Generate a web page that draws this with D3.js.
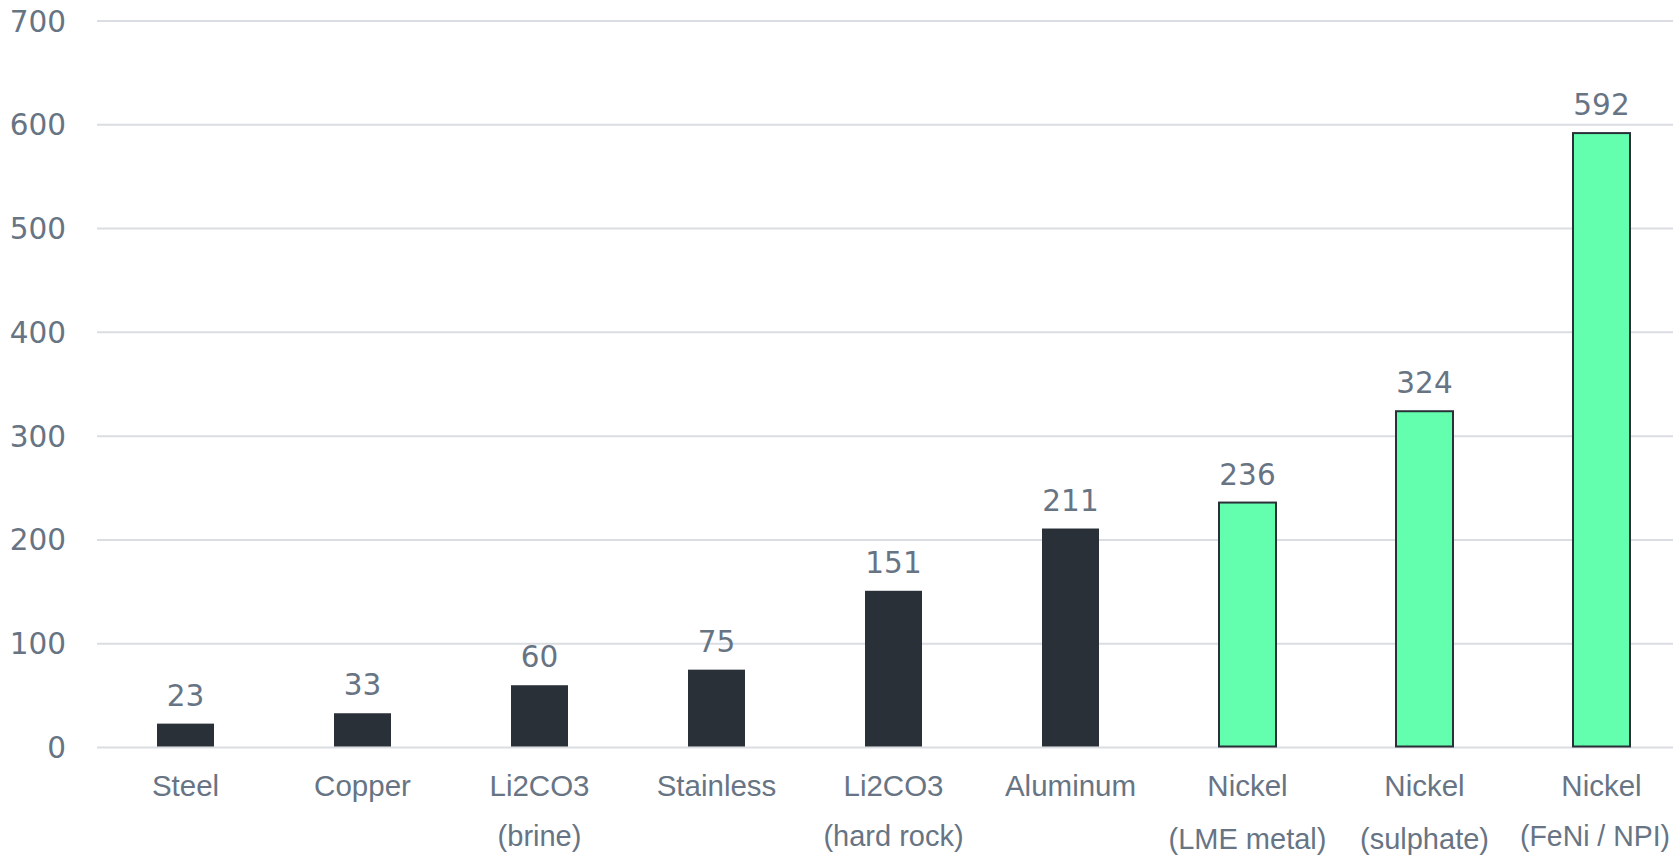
<!DOCTYPE html>
<html>
<head>
<meta charset="utf-8">
<script src="https://cdn.jsdelivr.net/npm/d3@7/dist/d3.min.js"></script>
<style>
  html, body { margin: 0; padding: 0; background: #ffffff; }
  svg { display: block; }
  text { fill: #677484; }
  .num { font-family: "DejaVu Sans", Verdana, sans-serif; }
  .cat { font-family: "Liberation Sans", Arial, sans-serif; }
</style>
</head>
<body>
<svg id="chart" width="1673" height="856"></svg>
<script>
// Category labels (first line / second line)
const categories = ["Steel", "Copper", "Li2CO3", "Stainless", "Li2CO3", "Aluminum", "Nickel", "Nickel", "Nickel"];
const subLabels  = ["", "", "(brine)", "", "(hard rock)", "", "(LME metal)", "(sulphate)", "(FeNi / NPI)"];
// Series values
const values     = [23, 33, 60, 75, 151, 211, 236, 324, 592];
// Which bars are highlighted (nickel products)
const highlight  = [false, false, false, false, false, false, true, true, true];
// Y axis ticks
const yTicks     = [0, 100, 200, 300, 400, 500, 600, 700];

const W = 1673;
const svg = d3.select("#chart");

const plotLeft = 97, plotRight = 1690, gridRight = W;
const yTop = 21, yBottom = 747.5;

const x = d3.scaleBand()
  .domain(d3.range(categories.length))
  .range([plotLeft, plotRight])
  .paddingInner(0.678)
  .paddingOuter(0.339);

const y = d3.scaleLinear().domain([0, 700]).range([yBottom, yTop]);

// Horizontal gridlines
svg.append("g")
  .selectAll("line")
  .data(yTicks)
  .join("line")
  .attr("x1", plotLeft)
  .attr("x2", gridRight)
  .attr("y1", d => y(d))
  .attr("y2", d => y(d))
  .attr("stroke", "#dadde2")
  .attr("stroke-width", 2);

// Y axis tick labels
svg.append("g")
  .selectAll("text")
  .data(yTicks)
  .join("text")
  .attr("class", "num")
  .attr("x", 66)
  .attr("y", d => y(d) + 10.5)
  .attr("text-anchor", "end")
  .attr("font-size", 29.5)
  .text(d => d);

// Bars
svg.append("g")
  .selectAll("rect")
  .data(values)
  .join("rect")
  .attr("x", (d, i) => x(i))
  .attr("width", x.bandwidth())
  .attr("y", d => y(d))
  .attr("height", d => y(0) - y(d) - 1)
  .attr("fill", (d, i) => highlight[i] ? "#63ffae" : "#2a3038")
  .attr("stroke", (d, i) => highlight[i] ? "#2a3038" : "none")
  .attr("stroke-width", 2);

// Value labels above bars
svg.append("g")
  .selectAll("text")
  .data(values)
  .join("text")
  .attr("class", "num")
  .attr("x", (d, i) => x(i) + x.bandwidth() / 2)
  .attr("y", d => y(d) - 18)
  .attr("text-anchor", "middle")
  .attr("font-size", 29.5)
  .text(d => d);

// Keeps a centred label inside the right edge of the canvas
function fitInside(sel) {
  sel.each(function () {
    const box = this.getBBox();
    const overflow = box.x + box.width - (W - 3);
    if (overflow > 0) {
      d3.select(this).attr("x", +d3.select(this).attr("x") - overflow);
    }
  });
}

// Category labels, first line
svg.append("g")
  .selectAll("text")
  .data(categories)
  .join("text")
  .attr("class", "cat")
  .attr("x", (d, i) => x(i) + x.bandwidth() / 2)
  .attr("y", 796)
  .attr("text-anchor", "middle")
  .attr("font-size", 29.5)
  .text(d => d)
  .call(fitInside);

// Category labels, second line (the nickel sub-labels wrap slightly lower)
svg.append("g")
  .selectAll("text")
  .data(subLabels)
  .join("text")
  .attr("class", "cat")
  .attr("x", (d, i) => x(i) + x.bandwidth() / 2)
  .attr("y", (d, i) => (i === 6 || i === 7) ? 849 : 846)
  .attr("text-anchor", "middle")
  .attr("font-size", 29)
  .attr("textLength", (d, i) => i === 8 ? 150 : null)
  .attr("lengthAdjust", "spacingAndGlyphs")
  .text(d => d)
  .call(fitInside);
</script>
</body>
</html>
